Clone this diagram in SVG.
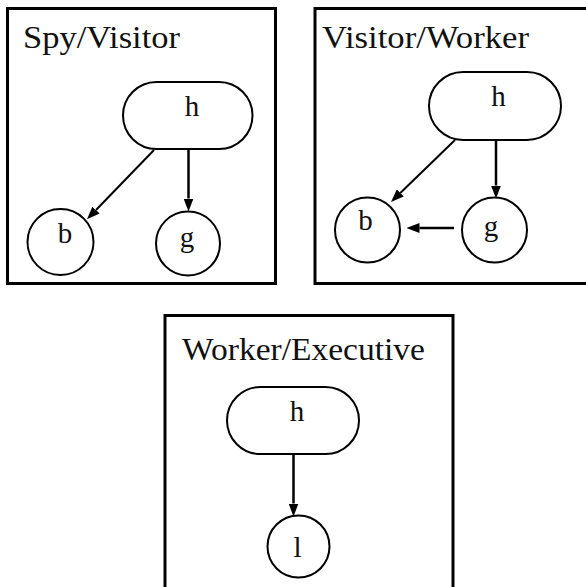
<svg xmlns="http://www.w3.org/2000/svg" width="586" height="587" viewBox="0 0 586 587">
  <style>
    .frame { fill: none; stroke: #000; stroke-width: 3; }
    .node { fill: #fff; stroke: #000; stroke-width: 2; }
    .edge { fill: none; stroke: #000; stroke-width: 2; }
    .edge.v { stroke-width: 2.5; }
    .title { font-family: "Liberation Serif", "Times New Roman", serif; font-size: 32px; fill: #111; }
    .label { font-family: "Liberation Serif", "Times New Roman", serif; font-size: 29px; fill: #111; text-anchor: middle; }
  </style>
  <defs>
    <marker id="arrow" markerUnits="userSpaceOnUse" markerWidth="13" markerHeight="10" refX="0" refY="5" orient="auto">
      <path d="M0,0 L13,5 L0,10 z" fill="#000"/>
    </marker>
  </defs>
  <rect width="586" height="587" fill="#fff"/>

  <!-- panel frames -->
  <g id="panels">
    <rect id="panel-spy-visitor" class="frame" x="7.5" y="8.5" width="268" height="275"/>
    <rect id="panel-visitor-worker" class="frame" x="315" y="8.5" width="280" height="275"/>
    <rect id="panel-worker-executive" class="frame" x="165" y="315.5" width="288" height="280"/>
  </g>

  <g id="titles">
    <text class="title" x="23" y="48" textLength="157" lengthAdjust="spacingAndGlyphs">Spy/Visitor</text>
    <text class="title" x="322" y="48" textLength="207" lengthAdjust="spacingAndGlyphs">Visitor/Worker</text>
    <text class="title" x="182" y="360" textLength="243" lengthAdjust="spacingAndGlyphs">Worker/Executive</text>
  </g>

  <!-- Spy/Visitor -->
  <g id="sv-h">
    <path class="node" d="M156.5,82 H219 A33.5,33.5 0 0 1 219,149 H156.5 A33.5,33.5 0 0 1 156.5,82 z"/>
    <text class="label" x="192" y="116">h</text>
  </g>
  <g id="sv-b">
    <circle class="node" cx="60.5" cy="242" r="33"/>
    <text class="label" x="65" y="243">b</text>
  </g>
  <g id="sv-g">
    <circle class="node" cx="188" cy="243.5" r="32"/>
    <text class="label" x="187" y="247">g</text>
  </g>

  <!-- Visitor/Worker -->
  <g id="vw-h">
    <path class="node" d="M463,72 H527 A34,34 0 0 1 527,140 H463 A34,34 0 0 1 463,72 z"/>
    <text class="label" x="498.5" y="106">h</text>
  </g>
  <g id="vw-b">
    <circle class="node" cx="367.5" cy="230" r="32.5"/>
    <text class="label" x="365.5" y="230">b</text>
  </g>
  <g id="vw-g">
    <circle class="node" cx="494.5" cy="230" r="32.5"/>
    <text class="label" x="491" y="236">g</text>
  </g>

  <!-- Worker/Executive -->
  <g id="we-h">
    <path class="node" d="M260.5,387 H325.5 A33.5,33.5 0 0 1 325.5,454 H260.5 A33.5,33.5 0 0 1 260.5,387 z"/>
    <text class="label" x="297" y="420.5">h</text>
  </g>
  <g id="we-l">
    <circle class="node" cx="298.5" cy="546.5" r="31"/>
    <text class="label" x="297.5" y="556.5">l</text>
  </g>

  <!-- connectors -->
  <g id="connectors">
    <line class="edge v" x1="188.5" y1="149" x2="188.5" y2="198.5" marker-end="url(#arrow)"/>
    <line class="edge" x1="154" y1="150" x2="96" y2="210" marker-end="url(#arrow)"/>
    <line class="edge v" x1="496" y1="140" x2="496" y2="185.5" marker-end="url(#arrow)"/>
    <line class="edge" x1="455" y1="140" x2="400.3" y2="193" marker-end="url(#arrow)"/>
    <line class="edge v" x1="454" y1="228" x2="419.5" y2="228" marker-end="url(#arrow)"/>
    <line class="edge v" x1="293.5" y1="454" x2="293.5" y2="503.5" marker-end="url(#arrow)"/>
  </g>
</svg>
